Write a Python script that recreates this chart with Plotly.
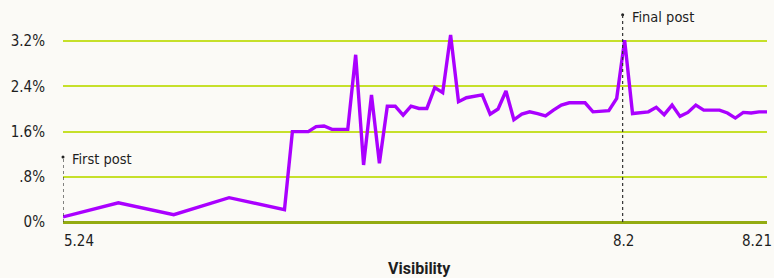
import plotly.graph_objects as go

# ---- data ----
dates = [
    "2024-05-24", "2024-05-31", "2024-06-07", "2024-06-14", "2024-06-21",
    "2024-06-22", "2024-06-23", "2024-06-24", "2024-06-25", "2024-06-26",
    "2024-06-27", "2024-06-28", "2024-06-29", "2024-06-30", "2024-07-01",
    "2024-07-02", "2024-07-03", "2024-07-04", "2024-07-05", "2024-07-06",
    "2024-07-07", "2024-07-08", "2024-07-09", "2024-07-10", "2024-07-11",
    "2024-07-12", "2024-07-13", "2024-07-14", "2024-07-15", "2024-07-16",
    "2024-07-17", "2024-07-18", "2024-07-19", "2024-07-20", "2024-07-21",
    "2024-07-22", "2024-07-23", "2024-07-24", "2024-07-25", "2024-07-26",
    "2024-07-27", "2024-07-28", "2024-07-29", "2024-07-30", "2024-07-31",
    "2024-08-01", "2024-08-02", "2024-08-03", "2024-08-04", "2024-08-05",
    "2024-08-06", "2024-08-07", "2024-08-08", "2024-08-09", "2024-08-10",
    "2024-08-11", "2024-08-12", "2024-08-13", "2024-08-14", "2024-08-15",
    "2024-08-16", "2024-08-17", "2024-08-18", "2024-08-19", "2024-08-20",
    "2024-08-21",
]
visibility = [
    0.09, 0.34, 0.13, 0.43, 0.22,
    1.60, 1.60, 1.60, 1.69, 1.70,
    1.64, 1.64, 1.64, 2.96, 1.01,
    2.25, 1.04, 2.05, 2.05, 1.89,
    2.05, 2.01, 2.01, 2.38, 2.29,
    3.31, 2.13, 2.20, 2.23, 2.25,
    1.91, 2.00, 2.32, 1.81, 1.91,
    1.95, 1.92, 1.88, 1.98, 2.07,
    2.11, 2.11, 2.11, 1.95, 1.96,
    1.97, 2.19, 3.22, 1.92, 1.93,
    1.95, 2.03, 1.90, 2.07, 1.87,
    1.94, 2.07, 1.98, 1.98, 1.98,
    1.93, 1.84, 1.94, 1.93, 1.95,
    1.95,
]

y_ticks = [0, 0.8, 1.6, 2.4, 3.2]
y_tick_labels = ["0%", ".8%", "1.6%", "2.4%", "3.2%"]

event_names = ["First post", "Final post"]
event_times = ["2024-05-24 00:00", "2024-08-02 18:00"]
event_heights = [1.15, 3.67]

x_tick_vals = ["2024-05-24 00:00", "2024-08-02 18:00", "2024-08-21 00:00"]
x_tick_labels = ["5.24", "8.2", "8.21"]

x_title = "Visibility"

# ---- style ----
BG = "#FBFAF6"
PURPLE = "#AA00FF"
GRID = "#C6E02A"
ZERO = "#93AB12"
TEXT = "#1E1E1E"
NARROW = "Liberation Sans Narrow, DejaVu Sans Condensed, Roboto Condensed, Arial Narrow, sans-serif"

fig = go.Figure()

fig.add_trace(go.Scatter(
    x=dates, y=visibility, mode="lines",
    line=dict(color=PURPLE, width=3.4),
    hoverinfo="skip", showlegend=False,
))

# event markers (dotted lines with dot on top)
for name, t, h in zip(event_names, event_times, event_heights):
    fig.add_shape(type="line", xref="x", yref="y", x0=t, x1=t, y0=0, y1=h,
                  line=dict(color="#333333", width=1.2, dash="dot"), layer="above")
    fig.add_trace(go.Scatter(x=[t], y=[h], mode="markers",
                             marker=dict(color="#222222", size=3),
                             hoverinfo="skip", showlegend=False, cliponaxis=False))
    fig.add_annotation(x=t, y=h, xref="x", yref="y", text=name, showarrow=False,
                       xanchor="left", yanchor="middle", xshift=7, yshift=-2,
                       font=dict(family=NARROW, size=14.5, color=TEXT))

# x tick labels: first left aligned, middle centered, last right aligned
for i, (v, lab) in enumerate(zip(x_tick_vals, x_tick_labels)):
    if i == 0:
        a, xs = "left", -1
    elif i == len(x_tick_vals) - 1:
        a, xs = "right", 7
    else:
        a, xs = "center", 1
    fig.add_annotation(x=v, y=0, xref="x", yref="paper", text=lab, showarrow=False,
                       xanchor=a, yanchor="middle", yshift=-19, xshift=xs,
                       font=dict(family=NARROW, size=15, color=TEXT))

fig.add_annotation(x=0.5, y=0, xref="paper", yref="paper", text="<b>" + x_title + "</b>",
                   showarrow=False, xanchor="center", yanchor="middle", yshift=-46, xshift=4,
                   font=dict(family="Roboto, Inter, sans-serif", size=16, color=TEXT))

fig.update_layout(
    width=774, height=278,
    margin=dict(l=63, r=7, t=13, b=56),
    paper_bgcolor=BG, plot_bgcolor=BG,
    showlegend=False,
    xaxis=dict(
        type="date", range=["2024-05-24", "2024-08-21"],
        showgrid=False, zeroline=False, showticklabels=False, ticks="",
        showline=False, fixedrange=True,
    ),
    yaxis=dict(
        range=[0, 3.7], tickvals=y_ticks, ticktext=y_tick_labels,
        showgrid=True, gridcolor=GRID, gridwidth=2,
        zeroline=True, zerolinecolor=ZERO, zerolinewidth=3,
        ticks="outside", ticklen=14, tickcolor="rgba(0,0,0,0)",
        tickfont=dict(family=NARROW, size=15, color=TEXT),
        showline=False, fixedrange=True,
    ),
)

fig.write_html(
    "out.html",
    config={"displayModeBar": False, "staticPlot": True},
    post_script="document.body.style.margin='0';document.body.style.overflow='hidden';"
                "document.body.style.background='" + BG + "';",
)
